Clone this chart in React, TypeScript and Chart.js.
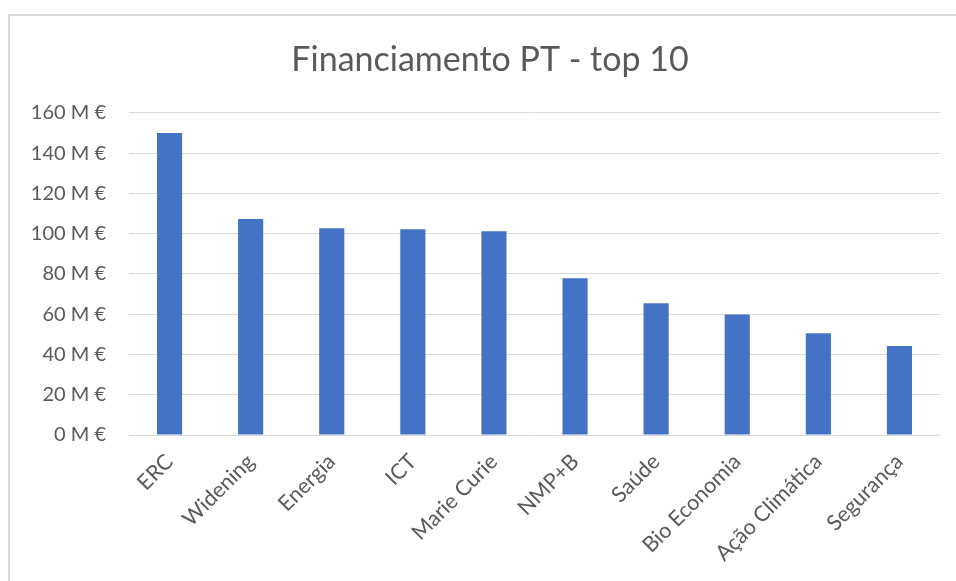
import React, { useEffect, useRef } from "react";
import { Chart, registerables } from "chart.js";

Chart.register(...registerables);

const chartTitle = "Financiamento PT - top 10";
const categories = [
  "ERC",
  "Widening",
  "Energia",
  "ICT",
  "Marie Curie",
  "NMP+B",
  "Saúde",
  "Bio Economia",
  "Ação Climática",
  "Segurança",
];
const fundingMillions = [150, 107.3, 102.7, 102.2, 101.2, 77.9, 65.4, 59.8, 50.5, 44.2];
const yTickValues = [0, 20, 40, 60, 80, 100, 120, 140, 160];
const yTickSuffix = " M €";

const W = 956;
const H = 581;
const FONT = "Lato, 'Open Sans', sans-serif";
const TEXT = "#595959";

const titleShift = {
  id: "titleShift",
  afterLayout(chart: any) {
    const t = chart.titleBlock;
    if (t) {
      t.left = 8;
      t.right = 972;
    }
  },
};

export default function App() {
  const ref = useRef<HTMLCanvasElement | null>(null);

  useEffect(() => {
    if (!ref.current) return;
    const chart = new Chart(ref.current, {
      type: "bar",
      data: {
        labels: categories,
        datasets: [
          {
            data: fundingMillions,
            backgroundColor: "#4472C4",
            borderWidth: 0,
            categoryPercentage: 1,
            barPercentage: 0.31,
          },
        ],
      },
      options: {
        responsive: false,
        animation: false,
        layout: { padding: { left: 10, right: 16, top: 0, bottom: 0 } },
        plugins: {
          legend: { display: false },
          tooltip: { enabled: false },
          title: {
            display: true,
            text: chartTitle,
            color: TEXT,
            font: { family: FONT, size: 34, weight: "normal" },
            padding: { top: 40, bottom: 32 },
          },
        },
        scales: {
          x: {
            grid: { display: false },
            border: { display: false },
            ticks: {
              color: TEXT,
              font: { family: FONT, size: 21.5 },
              autoSkip: false,
              minRotation: 45,
              maxRotation: 45,
              padding: 6,
            },
            afterFit: (s: any) => {
              s.height = 146;
            },
          },
          y: {
            min: 0,
            max: 160,
            afterBuildTicks: (s: any) => {
              s.ticks = yTickValues.map((v) => ({ value: v }));
            },
            grid: { color: "#d9d9d9", lineWidth: 1, drawTicks: false },
            border: { display: false },
            ticks: {
              color: TEXT,
              font: { family: FONT, size: 20 },
              padding: 23,
              callback: (v: any) => `${v}${yTickSuffix}`,
            },
            afterFit: (s: any) => {
              s.width = 119;
            },
          },
        },
      },
      plugins: [titleShift],
    });
    return () => chart.destroy();
  }, []);

  return (
    <div
      style={{
        position: "fixed",
        left: 0,
        top: 0,
        width: W,
        height: H,
        background: "#ffffff",
        overflow: "hidden",
      }}
    >
      <div
        style={{
          position: "absolute",
          left: 8,
          top: 14,
          width: W,
          height: H,
          border: "2px solid #d9d9d9",
          boxSizing: "border-box",
        }}
      />
      <canvas
        ref={ref}
        width={W}
        height={H}
        style={{ position: "absolute", left: 0, top: 0, width: W, height: H }}
      />
    </div>
  );
}
